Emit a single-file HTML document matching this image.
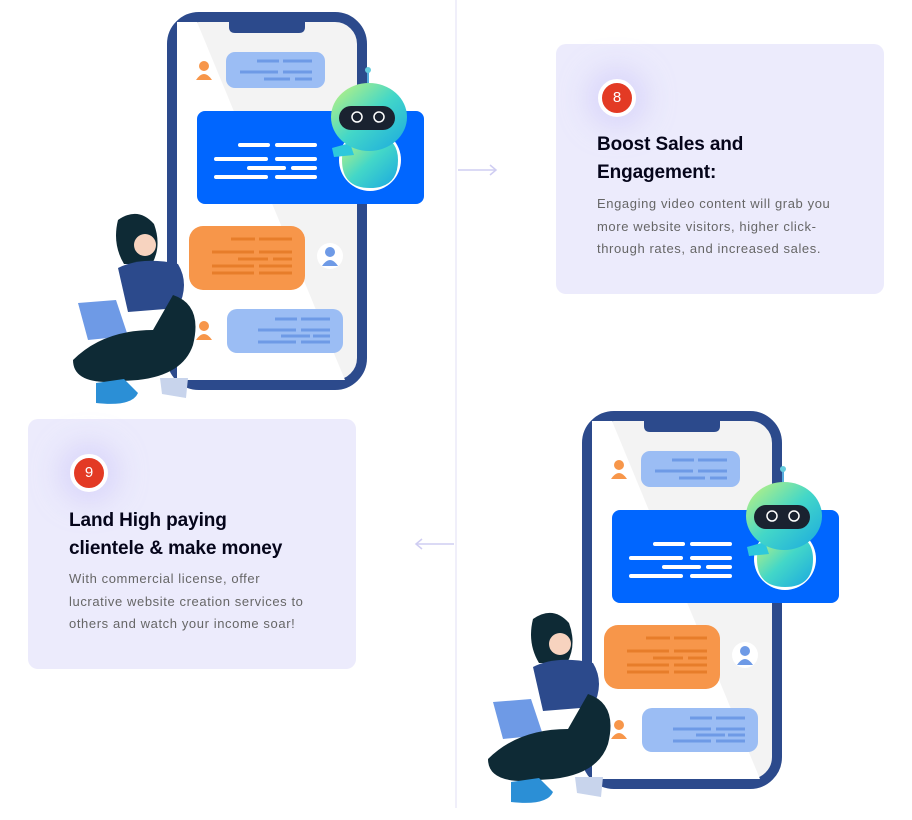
<!DOCTYPE html>
<html><head><style>
body{margin:0;width:912px;height:820px;background:#fff;position:relative;overflow:hidden;font-family:"Liberation Sans",sans-serif}
.card{position:absolute;background:#ecebfc;border-radius:10px;width:328px;height:250px}
.badge{position:absolute;width:30px;height:30px;border-radius:50%;background:#e33a24;border:4px solid #fff;color:#fff;font-size:15px;text-align:center;line-height:30px;box-shadow:0 0 26px 12px rgba(205,200,250,.55)}
.title{position:absolute;font-weight:bold;font-size:19px;line-height:28px;color:#05051a;letter-spacing:-.1px}
.body{position:absolute;font-size:13px;line-height:22.5px;color:#666;letter-spacing:.6px;white-space:nowrap}
</style></head><body>
<svg width="912" height="820" style="position:absolute;left:0;top:0">
<defs>
<linearGradient id="rb" x1="0" y1="0" x2="1" y2="1"><stop offset="0" stop-color="#c8f57a"/><stop offset=".5" stop-color="#43d7c8"/><stop offset="1" stop-color="#1aa8e0"/></linearGradient>
<g id="ill">
<rect x="172" y="17" width="190" height="368" rx="27" fill="#f3f3f3" stroke="#2c4a8c" stroke-width="10"/>
<polygon points="177,22 197,22 345,380 177,380" fill="#fff"/>
<path d="M229,17 h76 v10 q0,6 -6,6 h-64 q-6,0 -6,-6z" fill="#2c4a8c"/>
<rect x="226" y="52" width="99" height="36" rx="9" fill="#9bbdf4"/>
<g stroke="#6e9ae6" stroke-width="3"><line x1="257" y1="61" x2="279" y2="61"/><line x1="283" y1="61" x2="312" y2="61"/><line x1="240" y1="72" x2="278" y2="72"/><line x1="283" y1="72" x2="312" y2="72"/><line x1="264" y1="79" x2="290" y2="79"/><line x1="295" y1="79" x2="312" y2="79"/></g>
<rect x="197" y="111" width="227" height="93" rx="8" fill="#0066ff"/>
<g stroke="#fff" stroke-width="4" stroke-linecap="round"><line x1="240" y1="145" x2="268" y2="145"/><line x1="277" y1="145" x2="315" y2="145"/><line x1="216" y1="159" x2="266" y2="159"/><line x1="277" y1="159" x2="315" y2="159"/><line x1="249" y1="168" x2="284" y2="168"/><line x1="293" y1="168" x2="315" y2="168"/><line x1="216" y1="177" x2="266" y2="177"/><line x1="277" y1="177" x2="315" y2="177"/></g>
<circle cx="370" cy="160" r="31" fill="#fff"/>
<path d="M342,160 q0,-25 28,-25 q28,0 28,25 q0,28 -28,28 q-28,0 -28,-28z" fill="url(#rb)"/>
<path d="M332,148 l18,-5 l4,12 l-20,2z" fill="#2ec8dc"/>
<line x1="368" y1="70" x2="368" y2="84" stroke="#5ad" stroke-width="2"/><circle cx="368" cy="70" r="3" fill="#6cd"/>
<ellipse cx="369" cy="117" rx="38" ry="34" fill="url(#rb)"/>
<rect x="339" y="106" width="56" height="24" rx="12" fill="#1a2230"/>
<circle cx="357" cy="117" r="5" fill="none" stroke="#fff" stroke-width="1.5"/><circle cx="379" cy="117" r="5" fill="none" stroke="#fff" stroke-width="1.5"/>
<rect x="189" y="226" width="116" height="64" rx="14" fill="#f7964a"/>
<g stroke="#e77d2a" stroke-width="3"><line x1="231" y1="239" x2="255" y2="239"/><line x1="259" y1="239" x2="292" y2="239"/><line x1="212" y1="252" x2="254" y2="252"/><line x1="259" y1="252" x2="292" y2="252"/><line x1="238" y1="259" x2="268" y2="259"/><line x1="273" y1="259" x2="292" y2="259"/><line x1="212" y1="266" x2="254" y2="266"/><line x1="259" y1="266" x2="292" y2="266"/><line x1="212" y1="273" x2="254" y2="273"/><line x1="259" y1="273" x2="292" y2="273"/></g>
<circle cx="330" cy="256" r="13" fill="#fff"/><circle cx="330" cy="252" r="5" fill="#6e9ae6"/><path d="M322,266 q8,-12 16,0z" fill="#6e9ae6"/>
<circle cx="204" cy="66" r="5" fill="#f7964a"/><path d="M196,80 q8,-12 16,0z" fill="#f7964a"/>
<circle cx="204" cy="326" r="5" fill="#f7964a"/><path d="M196,340 q8,-12 16,0z" fill="#f7964a"/>
<rect x="227" y="309" width="116" height="44" rx="10" fill="#9bbdf4"/>
<g stroke="#6e9ae6" stroke-width="3"><line x1="275" y1="319" x2="297" y2="319"/><line x1="301" y1="319" x2="330" y2="319"/><line x1="258" y1="330" x2="296" y2="330"/><line x1="301" y1="330" x2="330" y2="330"/><line x1="281" y1="336" x2="310" y2="336"/><line x1="313" y1="336" x2="330" y2="336"/><line x1="258" y1="342" x2="296" y2="342"/><line x1="301" y1="342" x2="330" y2="342"/></g>
<path d="M118,220 q20,-14 36,4 q8,22 -2,40 l-28,0 q-12,-20 -6,-44z" fill="#0e2a35"/>
<circle cx="145" cy="245" r="11" fill="#f7d3bf"/>
<path d="M118,268 q24,-12 60,-4 q12,20 0,44 l-50,4z" fill="#2c4a8c"/>
<path d="M78,303 l38,-3 l12,36 l-40,4z" fill="#6e9ae6"/>
<path d="M73,360 q30,-30 80,-30 l20,-35 q30,10 20,50 q-10,30 -55,35 l-30,2 q-35,0 -35,-22z" fill="#0e2a35"/>
<path d="M96,383 l28,-4 l14,14 q-6,14 -42,10z" fill="#2b8fd6"/>
<path d="M160,378 l28,0 l-2,20 l-24,-4z" fill="#c8d4ec"/>
</g>
</defs>
<use href="#ill"/>
<use href="#ill" transform="translate(415,399)"/>
<line x1="456" y1="0" x2="456" y2="808" stroke="#ebeaf8" stroke-width="1.5"/>
<g stroke="#cfcdf2" stroke-width="1.5" fill="none"><line x1="458" y1="170" x2="496" y2="170"/><path d="M490,165 l6,5 l-6,5"/><line x1="416" y1="544" x2="454" y2="544"/><path d="M422,539 l-6,5 l6,5"/></g>
</svg>
<div class="card" style="left:556px;top:44px">
<div class="badge" style="left:42px;top:35px">8</div>
<div class="title" style="left:41px;top:87px">Boost Sales and<br>Engagement:</div>
<div class="body" style="left:41px;top:149px">Engaging video content will grab you<br>more website visitors, higher click-<br>through rates, and increased sales.</div>
</div>
<div class="card" style="left:28px;top:419px">
<div class="badge" style="left:42px;top:35px">9</div>
<div class="title" style="left:41px;top:88px">Land High paying<br>clientele &amp; make money</div>
<div class="body" style="left:41px;top:149px">With commercial license, offer<br>lucrative website creation services to<br>others and watch your income soar!</div>
</div>
</body></html>
